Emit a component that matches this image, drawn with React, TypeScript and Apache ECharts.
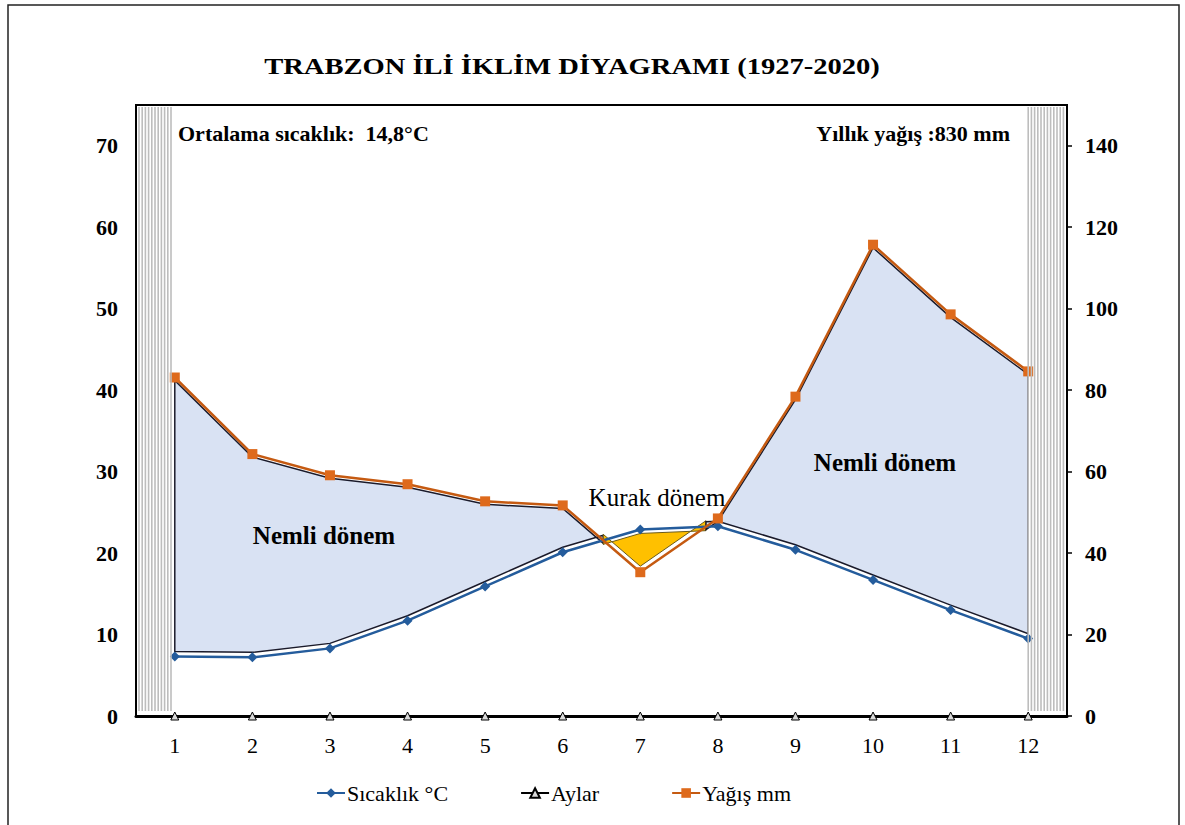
import React, { useEffect, useRef } from "react";
import * as echarts from "echarts";

const months = ["1", "2", "3", "4", "5", "6", "7", "8", "9", "10", "11", "12"];
const temperature = [7.3, 7.2, 8.3, 11.7, 15.9, 20.1, 22.9, 23.3, 20.4, 16.7, 13.0, 9.5];
const precipitation = [83.1, 64.3, 59.1, 56.9, 52.7, 51.7, 35.3, 48.5, 78.4, 115.7, 98.6, 84.6];
const monthMarks = [0, 0, 0, 0, 0, 0, 0, 0, 0, 0, 0, 0];
const tempTicks = [0, 10, 20, 30, 40, 50, 60, 70];
const precipTicks = [0, 20, 40, 60, 80, 100, 120, 140];
const legendNames = ["Sıcaklık °C", "Aylar", "Yağış mm"];

const SERIF = "Liberation Serif";

function renderFill(params: any, api: any) {
  if (params.dataIndex !== 0) return null;
  const n = months.length;
  const pT = temperature.map((t, i) => api.coord([i, t * 2]));
  const pP = precipitation.map((p, i) => api.coord([i, p]));
  const d = temperature.map((t, i) => precipitation[i] - t * 2);
  const regions: any[] = [];
  let cur: any = { humid: d[0] >= 0, P: [pP[0]], T: [pT[0]] };
  for (let i = 0; i < n - 1; i++) {
    const s1 = d[i] >= 0;
    const s2 = d[i + 1] >= 0;
    if (s1 === s2) {
      cur.P.push(pP[i + 1]);
      cur.T.push(pT[i + 1]);
    } else {
      const t = d[i] / (d[i] - d[i + 1]);
      const c = [
        pT[i][0] + (pT[i + 1][0] - pT[i][0]) * t,
        pT[i][1] + (pT[i + 1][1] - pT[i][1]) * t,
      ];
      cur.P.push(c);
      cur.T.push(c);
      regions.push(cur);
      cur = { humid: s2, P: [c, pP[i + 1]], T: [c, pT[i + 1]] };
    }
  }
  regions.push(cur);
  const children = regions.map((r) => {
    const pOff = r.humid ? 3 : -6;
    const tOff = r.humid ? -5 : 4;
    const pts = [
      ...r.P.map((p: number[]) => [p[0], p[1] + pOff]),
      ...r.T.slice().reverse().map((p: number[]) => [p[0], p[1] + tOff]),
    ];
    return {
      type: "polygon",
      shape: { points: pts },
      style: r.humid
        ? { fill: "#D9E2F3", stroke: "#1a1a2a", lineWidth: 1.5 }
        : { fill: "#FFC000", stroke: "#6b5a1a", lineWidth: 1 },
    };
  });
  return { type: "group", children };
}

function renderStripes(params: any, api: any) {
  if (params.dataIndex !== 0) return null;
  const cs = params.coordSys;
  const top = cs.y + 2;
  const bottom = cs.y + cs.height - 5;
  const first = api.coord([0, 0])[0];
  const last = api.coord([months.length - 1, 0])[0];
  const children: any[] = [];
  const addRange = (x0: number, x1: number) => {
    for (let x = x0; x <= x1; x += 3.2) {
      children.push({
        type: "line",
        shape: { x1: x, y1: top, x2: x, y2: bottom },
        style: { stroke: "#BDBDBD", lineWidth: 1.6 },
      });
    }
  };
  addRange(cs.x + 3, first - 3);
  addRange(last, cs.x + cs.width - 3);
  return { type: "group", children };
}

export default function App() {
  const ref = useRef<HTMLDivElement>(null);
  useEffect(() => {
    if (!ref.current) return;
    const chart = echarts.init(ref.current, undefined, { renderer: "svg" });
    const legendTextStyle = {
      fontFamily: SERIF,
      fontSize: 22,
      color: "#000",
      padding: [0, 0, 0, -3],
    };
    const option: any = {
      animation: false,
      backgroundColor: "#ffffff",
      textStyle: { fontFamily: SERIF, color: "#000" },
      grid: {
        left: 136,
        right: 118,
        top: 105,
        bottom: 109,
        show: true,
        borderColor: "#000",
        borderWidth: 2,
        containLabel: false,
      },
      legend: {
        data: legendNames.map((name) => ({ name, textStyle: legendTextStyle })),
        left: 311,
        top: 777,
        itemWidth: 28,
        itemHeight: 12,
        itemGap: 72,
        textStyle: legendTextStyle,
      },
      xAxis: {
        type: "category",
        data: months,
        boundaryGap: true,
        axisLine: { show: true, lineStyle: { color: "#000", width: 3 } },
        axisTick: { show: false },
        axisLabel: { fontFamily: SERIF, fontSize: 22, color: "#000", margin: 18 },
        splitLine: { show: false },
      },
      yAxis: [
        {
          type: "value",
          min: 0,
          max: 75,
          interval: 10,
          axisLine: { show: true, lineStyle: { color: "#000", width: 2 } },
          axisTick: { show: false },
          axisLabel: {
            fontFamily: SERIF,
            fontSize: 22,
            fontWeight: "bold",
            color: "#000",
            margin: 18,
            customValues: tempTicks,
          },
          splitLine: { show: false },
        },
        {
          type: "value",
          min: 0,
          max: 150,
          interval: 20,
          position: "right",
          axisLine: { show: true, lineStyle: { color: "#000", width: 2 } },
          axisTick: {
            show: true,
            length: 5,
            customValues: precipTicks,
            lineStyle: { color: "#000", width: 1.5 },
          },
          axisLabel: {
            fontFamily: SERIF,
            fontSize: 22,
            fontWeight: "bold",
            color: "#000",
            margin: 18,
            customValues: precipTicks,
          },
          splitLine: { show: false },
        },
      ],
      series: [
        {
          name: "fill",
          type: "custom",
          yAxisIndex: 1,
          data: [[0, 0]],
          renderItem: renderFill,
          z: 1,
          silent: true,
          clip: false,
        },
        {
          name: legendNames[0],
          type: "line",
          yAxisIndex: 0,
          data: temperature,
          symbol: "diamond",
          symbolSize: 10,
          lineStyle: { color: "#245C9C", width: 2.5 },
          itemStyle: { color: "#245C9C" },
          z: 3,
        },
        {
          name: legendNames[1],
          type: "line",
          yAxisIndex: 0,
          data: monthMarks,
          symbol: "triangle",
          symbolSize: 8,
          lineStyle: { color: "#000", width: 1 },
          itemStyle: { color: "#D9D9D9", borderColor: "#000", borderWidth: 1 },
          z: 4,
        },
        {
          name: legendNames[2],
          type: "line",
          yAxisIndex: 1,
          data: precipitation,
          symbol: "rect",
          symbolSize: 10,
          lineStyle: { color: "#C55A11", width: 2.5 },
          itemStyle: { color: "#DE6A1C" },
          z: 3,
        },
        {
          name: "stripes",
          type: "custom",
          yAxisIndex: 1,
          data: [[0, 0]],
          renderItem: renderStripes,
          z: 5,
          silent: true,
          clip: false,
        },
      ],
      graphic: [
        {
          type: "rect",
          shape: { x: 8, y: 5, width: 1171, height: 840 },
          style: { fill: "none", stroke: "#222", lineWidth: 1.5 },
          silent: true,
        },
        {
          type: "text",
          x: 572,
          y: 66,
          scaleX: 1.19,
          style: {
            text: "TRABZON İLİ İKLİM DİYAGRAMI (1927-2020)",
            font: `bold 24px ${SERIF}`,
            fill: "#000",
            align: "center",
            verticalAlign: "middle",
            textAlign: "center",
            textVerticalAlign: "middle",
          },
        },
        {
          type: "text",
          x: 178,
          y: 133,
          style: {
            text: "Ortalama sıcaklık:  14,8°C",
            font: `bold 22px ${SERIF}`,
            fill: "#000",
            align: "left",
            verticalAlign: "middle",
            textAlign: "left",
            textVerticalAlign: "middle",
          },
        },
        {
          type: "text",
          x: 1010,
          y: 133,
          style: {
            text: "Yıllık yağış :830 mm",
            font: `bold 22px ${SERIF}`,
            fill: "#000",
            align: "right",
            verticalAlign: "middle",
            textAlign: "right",
            textVerticalAlign: "middle",
          },
        },
        {
          type: "text",
          x: 324,
          y: 535,
          z: 10,
          style: {
            text: "Nemli dönem",
            font: `bold 25px ${SERIF}`,
            fill: "#000",
            align: "center",
            verticalAlign: "middle",
            textAlign: "center",
            textVerticalAlign: "middle",
          },
        },
        {
          type: "text",
          x: 885,
          y: 462,
          z: 10,
          style: {
            text: "Nemli dönem",
            font: `bold 25px ${SERIF}`,
            fill: "#000",
            align: "center",
            verticalAlign: "middle",
            textAlign: "center",
            textVerticalAlign: "middle",
          },
        },
        {
          type: "text",
          x: 657,
          y: 497,
          z: 10,
          style: {
            text: "Kurak dönem",
            font: `25px ${SERIF}`,
            fill: "#000",
            align: "center",
            verticalAlign: "middle",
            textAlign: "center",
            textVerticalAlign: "middle",
          },
        },
      ],
    };
    chart.setOption(option);
    return () => chart.dispose();
  }, []);
  return (
    <div
      ref={ref}
      style={{ position: "absolute", left: 0, top: 0, width: 1185, height: 825 }}
    />
  );
}
